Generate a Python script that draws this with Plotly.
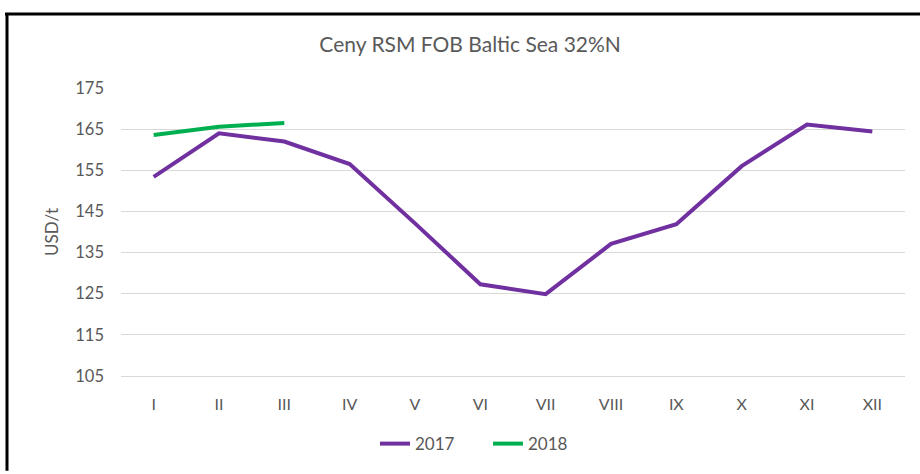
import plotly.graph_objects as go

months = ["I", "II", "III", "IV", "V", "VI", "VII", "VIII", "IX", "X", "XI", "XII"]
values_2017 = [153.4, 164.0, 162.0, 156.5, 142.1, 127.3, 124.9, 137.1, 141.9, 156.0, 166.1, 164.4]
months_2018 = ["I", "II", "III"]
values_2018 = [163.6, 165.6, 166.5]
y_ticks = [105, 115, 125, 135, 145, 155, 165, 175]

FONT = "Lato, Carlito, Calibri, sans-serif"
GREY = "#595959"

fig = go.Figure()
fig.add_trace(go.Scatter(x=months, y=values_2017, mode="lines", name="2017",
                         line=dict(color="#7030A0", width=4)))
fig.add_trace(go.Scatter(x=months_2018, y=values_2018, mode="lines", name="2018",
                         line=dict(color="#00B050", width=4)))

L, R, T, B = 121, 15, 88, 94
W, H = 920, 474
pw, ph = W - L - R, H - T - B

def px_x(x):
    return (x - L) / pw

def px_y(y):
    return (H - B - y) / ph

fig.update_layout(
    width=W, height=H,
    margin=dict(l=L, r=R, t=T, b=B),
    paper_bgcolor="white", plot_bgcolor="white",
    font=dict(family=FONT, color=GREY, size=16),
    title=dict(text="Ceny RSM FOB Baltic Sea 32%N", x=0.511, xanchor="center",
               y=1 - 45 / H, yanchor="middle",
               font=dict(family=FONT, size=21, color=GREY)),
    xaxis=dict(categoryorder="array", categoryarray=months, showgrid=False,
               showline=True, linecolor="#D9D9D9", linewidth=1, ticks="",
               ticklabelstandoff=14,
               tickfont=dict(size=16, color=GREY),
               range=[-0.5, 11.5]),
    yaxis=dict(range=[105, 175], tickvals=y_ticks, showgrid=True,
               gridcolor="#D9D9D9", gridwidth=1, zeroline=False, showline=False,
               ticks="", ticklabelstandoff=16,
               tickfont=dict(size=16.5, color=GREY),
               title=dict(text="USD/t", font=dict(size=17, color=GREY), standoff=12)),
    legend=dict(orientation="h", x=px_x(375), xanchor="left", y=px_y(449), yanchor="middle",
                font=dict(size=17, color=GREY), tracegroupgap=0,
                entrywidth=68, entrywidthmode="pixels"),
    showlegend=True,
)

# outer frame lines (top and left) as in the reference screenshot
fig.add_shape(type="line", xref="paper", yref="paper",
              x0=px_x(5), x1=px_x(921), y0=px_y(13), y1=px_y(13),
              line=dict(color="black", width=3))
fig.add_shape(type="line", xref="paper", yref="paper",
              x0=px_x(7), x1=px_x(7), y0=px_y(12), y1=px_y(476),
              line=dict(color="black", width=3))

fig.write_html("out.html", config={"displayModeBar": False},
               post_script="document.body.style.margin='0';document.body.style.overflow='hidden';")
